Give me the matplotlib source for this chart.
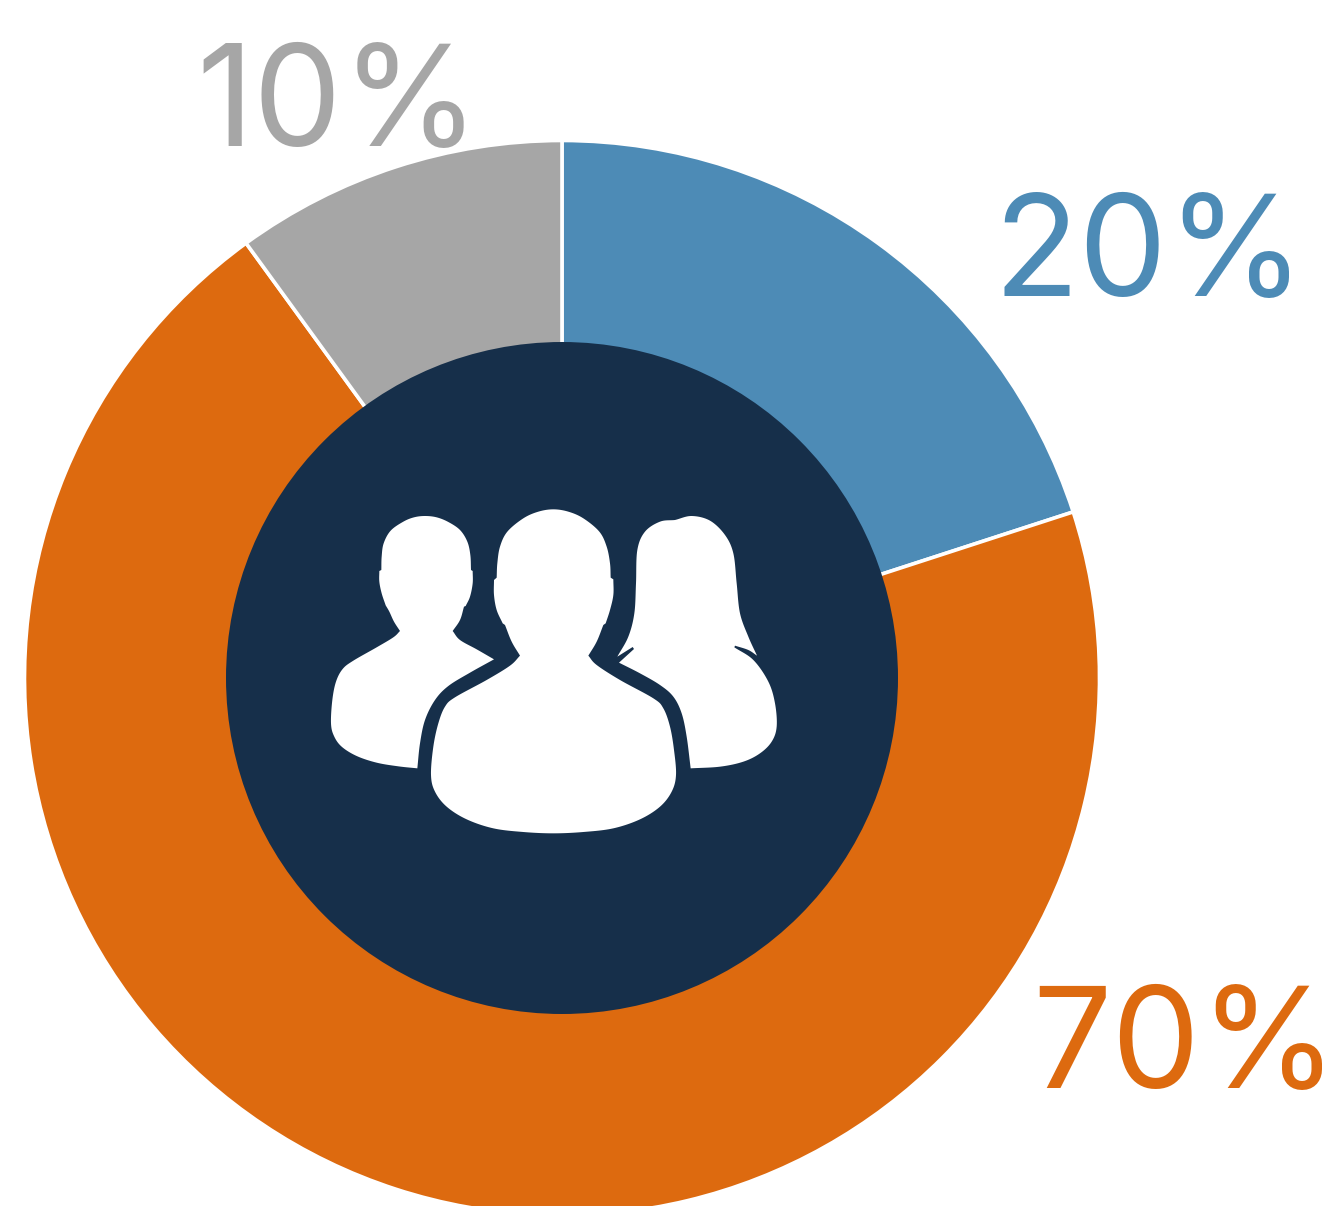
import numpy as np
import matplotlib
matplotlib.use("Agg")
import matplotlib.pyplot as plt
from matplotlib.patches import Circle, PathPatch
from matplotlib.path import Path

W, H = 1337, 1206

values = [20, 70, 10]
labels = ["20%", "70%", "10%"]
colors = ["#4D8BB6", "#DD6A0F", "#A6A6A6"]
label_x = [994, 1032, 196]
label_y = [296, 1088, 146]

navy = "#162F4A"
cx, cy = 562, 678
r_out, r_in = 537.5, 336

# icon outlines, in 3x zoom pixels; each sublist is a smooth run, corners between runs
man_left = [
    [(240,393),(222,365),(208,335),(197,316)],
    [(197,316),(185,280),(178,245),(178,213)],
    [(184,210),(185,170),(191,130),(212,92),(250,65),(282,52),(315,48),(350,52),(385,66),(420,90),(442,125),(451,165),(453,210)],
    [(458,213),(458,250),(450,290),(437,318)],
    [(432,320),(420,360),(398,393)],
    [(398,393),(420,420),(470,448),(522,478)],
    [(522,478),(450,518),(385,558),(345,600),(315,660),(300,730),(292,805)],
    [(292,805),(235,799),(170,788),(110,768),(65,740),(42,708),(33,670),(37,600),(48,545),(68,507),(100,482),(170,442),(220,412),(240,393)],
]
man_mid = [
    [(600,467),(575,425),(555,375)],
    [(548,370),(530,330),(522,285),(522,240)],
    [(530,233),(532,190),(540,140),(562,95),(610,55),(655,35),(700,28),(745,35),(790,55),(838,95),(860,140),(870,190),(872,233)],
    [(880,238),(880,285),(870,330),(857,370)],
    [(850,375),(830,425),(805,467)],
    [(805,467),(830,495),(900,540),(1000,595),(1030,625),(1050,680),(1062,750),(1068,825),(1055,875),(1020,920),(960,958),(880,985),(790,996),(700,1000),(610,996),(520,985),(440,958),(380,920),(345,875),(333,825),(340,740),(355,670),(375,620),(405,592),(500,540),(570,497),(600,467)],
]
woman = [
    [(1065,60),(1115,48),(1170,62),(1215,105),(1240,160),(1250,250),(1260,340),(1285,410),(1311,467)],
    [(1311,467),(1285,450),(1245,437)],
    [(1243,442),(1300,480),(1345,545),(1365,610),(1370,680),(1355,725),(1320,760),(1270,785),(1200,800),(1112,805)],
    [(1112,805),(1100,710),(1085,640),(1060,590),(1020,555),(960,520),(897,488)],
    [(897,488),(942,447)],
    [(938,441),(892,470)],
    [(892,470),(925,410),(943,340),(948,250),(952,150),(975,95),(1020,65),(1065,60)],
]


def smooth(run, n=12):
    p = np.array(run, dtype=float)
    if len(p) < 3:
        return p
    # Catmull-Rom through the run
    q = np.vstack([2 * p[0] - p[1], p, 2 * p[-1] - p[-2]])
    out = []
    for i in range(1, len(q) - 2):
        for t in np.linspace(0, 1, n, endpoint=False):
            out.append(0.5 * (2 * q[i] + (q[i + 1] - q[i - 1]) * t
                              + (2 * q[i - 1] - 5 * q[i] + 4 * q[i + 1] - q[i + 2]) * t ** 2
                              + (3 * q[i] - q[i - 1] - 3 * q[i + 1] + q[i + 2]) * t ** 3))
    out.append(p[-1])
    return np.array(out)


def icon_patch(shape):
    pts = np.vstack([smooth(r) for r in shape])
    # zoom crop started at (320, 500), 3x
    pts = np.column_stack([320 + pts[:, 0] / 3, H - (500 + pts[:, 1] / 3)])
    return PathPatch(Path(np.vstack([pts, pts[0]]), closed=True), fc="white", ec="none", zorder=5)


plt.rcParams["font.family"] = ["Inter", "DejaVu Sans"]

fig = plt.figure(figsize=(W / 100, H / 100), dpi=100)
ax = fig.add_axes([0, 0, 1, 1])

ax.pie(values, colors=colors, startangle=90, counterclock=False, radius=r_out,
       center=(cx, H - cy), frame=True,
       wedgeprops=dict(width=r_out - r_in + 10, edgecolor="white", linewidth=2.6))
ax.add_patch(Circle((cx, H - cy), r_in, fc=navy, ec="none", zorder=4))

for shape in [man_left, woman, man_mid]:
    ax.add_patch(icon_patch(shape))

for lab, col, x, y in zip(labels, colors, label_x, label_y):
    ax.text(x, H - y, lab, color=col, fontsize=101, fontweight="normal", ha="left", va="baseline")

ax.set_xlim(0, W)
ax.set_ylim(0, H)
ax.set_aspect("auto")
ax.axis("off")

fig.savefig("out.png", dpi=100, facecolor="white")
